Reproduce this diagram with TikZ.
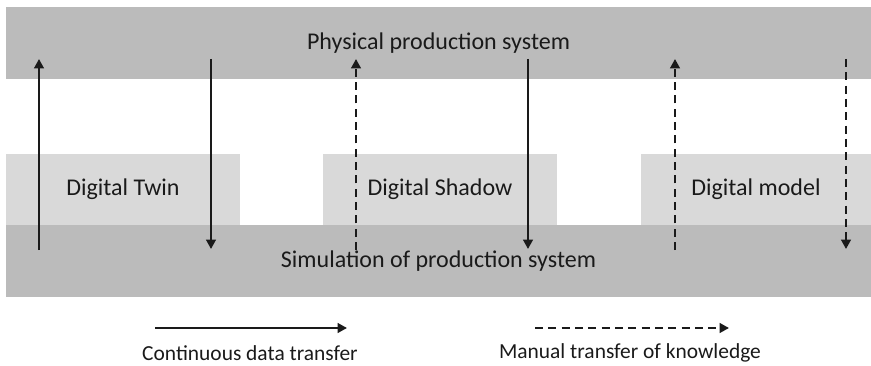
\documentclass[tikz,border=0pt]{standalone}
\usepackage{fontspec}
\setmainfont{Carlito}
\usetikzlibrary{positioning}
\usetikzlibrary{arrows.meta}
\definecolor{bandgray}{HTML}{BBBBBB}
\definecolor{boxgray}{HTML}{D9D9D9}
\definecolor{linegray}{HTML}{1A1A1A}

\begin{document}
\begin{tikzpicture}[
        x=0.3mm, y=-0.3mm,
        every node/.style={font=\fontsize{20.5}{24}\selectfont, text=linegray},
        band/.style={rectangle, fill=bandgray, inner sep=0pt, minimum width=259.5mm, minimum height=21.6mm},
        level/.style={rectangle, fill=boxgray, inner sep=0pt, minimum width=70.2mm, minimum height=21.3mm},
        legend/.style={font=\fontsize{18.3}{22}\selectfont},
        flow/.style={draw=linegray, line width=1.7pt, -{Triangle[width=2.9mm,length=2.8mm]}},
        manual/.style={flow, dash pattern=on 2.4mm off 1.6mm},
    ]

    \useasboundingbox (0,0) rectangle (871,366);

    \node[band]      (PS)   at (438.5,43)   {Physical production system};
    \node[band]      (SS)   at (438.5,261)  {Simulation of production system};

    \node[level]     (DT)   at (123,189.5)  {Digital Twin};
    \node[level]     (DS)   at (440,189.5)  {Digital Shadow};
    \node[level, minimum width=69mm] (DM) at (756,189.5) {Digital model};

    % arrow ends
    \coordinate (T1) at (39,250);   \coordinate (H1) at (39,59);
    \coordinate (T2) at (211,59);   \coordinate (H2) at (211,249);
    \coordinate (T3) at (356,250);  \coordinate (H3) at (356,59);
    \coordinate (T4) at (528,59);   \coordinate (H4) at (528,249);
    \coordinate (T5) at (675,250);  \coordinate (H5) at (675,59);
    \coordinate (T6) at (846,59);   \coordinate (H6) at (846,249);

    \draw[flow]   (T1) -- (H1);
    \draw[flow]   (T2) -- (H2);
    \draw[manual] (T3) -- (H3);
    \draw[flow]   (T4) -- (H4);
    \draw[manual] (T5) -- (H5);
    \draw[manual] (T6) -- (H6);

    % legend
    \coordinate (LS1) at (155,328);  \coordinate (LS2) at (347,328);
    \coordinate (LM1) at (535,328);  \coordinate (LM2) at (729,328);

    \draw[flow]   (LS1) -- (LS2);
    \draw[manual] (LM1) -- (LM2);

    \node[legend] (CD) at (250,353) {Continuous data transfer};
    \node[legend] (MT) at (630,353) {Manual transfer of knowledge};

\end{tikzpicture}
\end{document}
